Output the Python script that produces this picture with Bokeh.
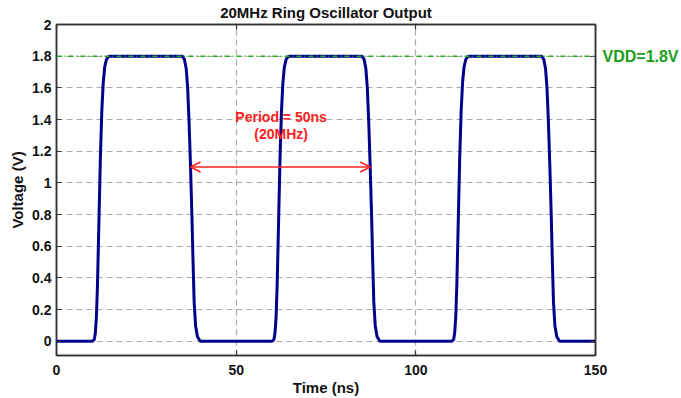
from bokeh.plotting import figure
from bokeh.models import (LinearAxis, FixedTicker, Range1d, Arrow, OpenHead,
                          Label, Span, CustomLabelingPolicy)
from bokeh.embed import file_html
from bokeh.resources import INLINE

# ---- data ----
time_ns = [0.0,
           10.0, 10.5, 10.8, 11.1, 11.4, 11.8, 12.2, 12.6, 13.0, 13.4, 13.9, 14.6,
           35.0, 35.6, 36.1, 36.5, 36.9, 37.3, 37.7, 38.0, 38.3, 38.7, 39.2, 40.0,
           60.0, 60.5, 60.8, 61.1, 61.4, 61.8, 62.2, 62.6, 63.0, 63.4, 63.9, 64.6,
           85.0, 85.6, 86.1, 86.5, 86.9, 87.3, 87.7, 88.0, 88.3, 88.7, 89.2, 90.0,
           110.0, 110.5, 110.8, 111.1, 111.4, 111.8, 112.2, 112.6, 113.0, 113.4, 113.9, 114.6,
           135.0, 135.6, 136.1, 136.5, 136.9, 137.3, 137.7, 138.0, 138.3, 138.7, 139.2, 140.0,
           150.0]
voltage = [0.0,
           0.0, 0.01, 0.05, 0.15, 0.35, 0.75, 1.15, 1.45, 1.63, 1.73, 1.78, 1.8,
           1.8, 1.78, 1.72, 1.6, 1.38, 1.1, 0.78, 0.5, 0.25, 0.1, 0.03, 0.0,
           0.0, 0.01, 0.05, 0.15, 0.35, 0.75, 1.15, 1.45, 1.63, 1.73, 1.78, 1.8,
           1.8, 1.78, 1.72, 1.6, 1.38, 1.1, 0.78, 0.5, 0.25, 0.1, 0.03, 0.0,
           0.0, 0.01, 0.05, 0.15, 0.35, 0.75, 1.15, 1.45, 1.63, 1.73, 1.78, 1.8,
           1.8, 1.78, 1.72, 1.6, 1.38, 1.1, 0.78, 0.5, 0.25, 0.1, 0.03, 0.0,
           0.0]
x_ticks = [0, 50, 100, 150]
y_ticks = [0, 0.2, 0.4, 0.6, 0.8, 1.0, 1.2, 1.4, 1.6, 1.8, 2.0]
y_tick_labels = ["0", "0.2", "0.4", "0.6", "0.8", "1", "1.2", "1.4", "1.6", "1.8", "2"]
vdd = 1.8
vdd_label = "VDD=1.8V"
period_start, period_end, period_level = 37.3, 87.3, 1.1
period_text = ["Period = 50ns", "(20MHz)"]
period_text_x = 62.5
period_text_y = [1.415, 1.31]
title_text = "20MHz Ring Oscillator Output"

FONT = "Liberation Sans"
AX = "#333333"
X_MIN, X_MAX, Y_MIN, Y_MAX = 0, 150, -0.09, 2.0

p = figure(width=681, height=398, output_backend="svg",
           toolbar_location=None,
           x_range=Range1d(X_MIN, X_MAX), y_range=Range1d(Y_MIN, Y_MAX),
           min_border_left=56, min_border_right=84, min_border_top=24,
           min_border_bottom=42)
p.background_fill_color = "white"
p.border_fill_color = "white"
p.outline_line_color = AX
p.outline_line_width = 1.5

def style_axis(ax):
    ax.axis_line_color = AX
    ax.axis_line_width = 1.5
    ax.major_tick_in = 5
    ax.major_tick_out = 0
    ax.minor_tick_in = 0
    ax.minor_tick_out = 0
    ax.major_tick_line_color = AX
    ax.major_tick_line_width = 1.2
    ax.major_label_text_font = FONT
    ax.major_label_text_font_size = "14px"
    ax.major_label_text_font_style = "bold"
    ax.major_label_text_color = "#111111"
    ax.axis_label_text_font = FONT
    ax.axis_label_text_font_size = "15px"
    ax.axis_label_text_font_style = "bold"
    ax.axis_label_text_color = "#111111"

xa = p.xaxis[0]
xa.ticker = FixedTicker(ticks=x_ticks)
xa.axis_label = "Time (ns)"
style_axis(xa)
xa.major_label_standoff = 9
xa.axis_label_standoff = 1

ya = p.yaxis[0]
ya.ticker = FixedTicker(ticks=y_ticks)
ya.major_label_overrides = {t: l for t, l in zip(y_ticks, y_tick_labels)}
ya.axis_label = "Voltage (V)"
style_axis(ya)
ya.major_label_standoff = 5
ya.axis_label_standoff = 3

# top axis: inward ticks only, carries the chart title as its label
top = LinearAxis(ticker=FixedTicker(ticks=x_ticks), axis_label=title_text)
style_axis(top)
top.major_label_policy = CustomLabelingPolicy(code="return new Set()")
top.major_label_text_font_size = "1px"
top.major_label_standoff = 0
top.axis_label_standoff = 0
p.add_layout(top, "above")

vdd_index = y_ticks.index(vdd)
right = LinearAxis(ticker=FixedTicker(ticks=y_ticks))
style_axis(right)
right.major_label_overrides = {vdd: vdd_label}
right.major_label_policy = CustomLabelingPolicy(
    args=dict(k=vdd_index),
    code="const r = new Set(); for (const i of indices) { if (i == k) r.add(i) } return r")
right.major_label_text_color = "#1a9e1a"
right.major_label_text_font_size = "16px"
right.major_label_standoff = 7
p.add_layout(right, "right")

p.xgrid.ticker = FixedTicker(ticks=x_ticks[1:-1])
p.ygrid.ticker = FixedTicker(ticks=y_ticks)
for g in (p.xgrid[0], p.ygrid[0]):
    g.grid_line_color = "#ababab"
    g.grid_line_width = 1.2
    g.grid_line_dash = "6 4"

# VDD reference line
p.add_layout(Span(location=vdd, dimension="width", line_color="#22aa22",
                  line_width=1.5, line_dash="5 3 1 3"))

# waveform
p.line(time_ns, voltage, line_color="#00008b", line_width=3)

# period arrow
p.add_layout(Arrow(x_start=period_start, y_start=period_level,
                   x_end=period_end, y_end=period_level,
                   line_color="#ff2020", line_width=1.6,
                   start=OpenHead(size=10, line_color="#ff2020", line_width=1.6),
                   end=OpenHead(size=10, line_color="#ff2020", line_width=1.6)))

for txt, yy in zip(period_text, period_text_y):
    p.add_layout(Label(x=period_text_x, y=yy, text=txt, text_align="center",
                       text_baseline="middle", text_color="#ff2020",
                       text_font=FONT, text_font_size="14px",
                       text_font_style="bold"))

open("out.html", "w").write(file_html(p, INLINE))
